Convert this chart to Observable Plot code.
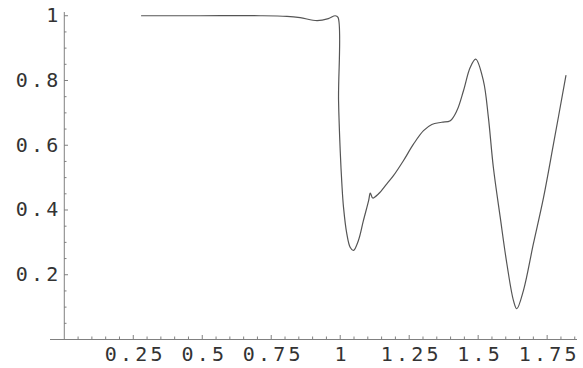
<!DOCTYPE html>
<html>
<head>
<meta charset="utf-8">
<script src="https://cdn.jsdelivr.net/npm/d3@7"></script>
<script src="https://cdn.jsdelivr.net/npm/@observablehq/plot@0.6"></script>
<style>
  html, body { margin: 0; padding: 0; background: #fff; }
  #chart svg { display: block; }
  #chart text { letter-spacing: 3.2px; }
</style>
</head>
<body>
<div id="chart"></div>
<script>
// Sampled response curve
const xs = [0.28, 0.493, 0.71, 0.807, 0.855, 0.916, 0.957, 0.982, 0.992, 0.994, 1.0, 1.006, 1.012, 1.024, 1.036, 1.048, 1.066, 1.084, 1.103, 1.109, 1.118, 1.139, 1.169, 1.193, 1.229, 1.266, 1.302, 1.332, 1.368, 1.399, 1.423, 1.447, 1.471, 1.491, 1.519, 1.537, 1.555, 1.58, 1.604, 1.628, 1.64, 1.664, 1.7, 1.737, 1.773, 1.818];
const ys = [1.0, 1.0, 1.0, 0.998, 0.994, 0.985, 0.991, 1.0, 0.995, 0.738, 0.583, 0.481, 0.408, 0.326, 0.285, 0.275, 0.306, 0.367, 0.429, 0.452, 0.437, 0.45, 0.481, 0.506, 0.552, 0.604, 0.645, 0.664, 0.671, 0.676, 0.707, 0.769, 0.84, 0.866, 0.799, 0.686, 0.532, 0.377, 0.234, 0.12, 0.095, 0.151, 0.295, 0.439, 0.604, 0.815];

// Axis ticks
const xMajorTicks = [0.25, 0.5, 0.75, 1, 1.25, 1.5, 1.75];
const xTickLabels = ["0.25", "0.5", "0.75", "1", "1.25", "1.5", "1.75"];
const yMajorTicks = [0.2, 0.4, 0.6, 0.8, 1];
const yTickLabels = ["0.2", "0.4", "0.6", "0.8", "1"];
const xMinorTicks = d3.range(1, 38).map(i => i * 0.05).filter(v => Math.abs(v / 0.25 - Math.round(v / 0.25)) > 1e-6);
const yMinorTicks = d3.range(1, 21).map(i => i * 0.05).filter(v => Math.abs(v / 0.2 - Math.round(v / 0.2)) > 1e-6);

const data = xs.map((x, i) => ({x, y: ys[i]}));

const font = "DejaVu Sans Mono";
const axisColor = "#808080";
const noText = () => "";

const chart = Plot.plot({
  width: 583,
  height: 368,
  marginLeft: 50,
  marginRight: 6,
  marginTop: 12,
  marginBottom: 29,
  style: {fontFamily: font, fontSize: "20px", color: "#333", background: "#fff"},
  x: {domain: [-0.05, 1.86]},
  y: {domain: [0, 1.01]},
  marks: [
    // axis lines through the origin
    Plot.ruleY([0], {stroke: axisColor, strokeWidth: 1}),
    Plot.ruleX([0], {stroke: axisColor, strokeWidth: 1}),
    // inward tick marks
    Plot.axisX({ticks: xMajorTicks, tickSize: 4, dy: -4, tickFormat: noText, label: null, stroke: axisColor}),
    Plot.axisX({ticks: xMinorTicks, tickSize: 2.5, dy: -2.5, tickFormat: noText, label: null, stroke: axisColor}),
    Plot.axisY({ticks: yMajorTicks, tickSize: 4, dx: 18, tickFormat: noText, label: null, stroke: axisColor}),
    Plot.axisY({ticks: yMinorTicks, tickSize: 2.5, dx: 16.5, tickFormat: noText, label: null, stroke: axisColor}),
    // tick labels
    Plot.axisX({ticks: xMajorTicks, tickSize: 0, tickPadding: 7, dx: 2, tickFormat: (d, i) => xTickLabels[i], label: null, fill: "#333"}),
    Plot.axisY({ticks: yMajorTicks, tickSize: 0, tickPadding: 3, dx: 14, tickFormat: (d, i) => yTickLabels[i], label: null, fill: "#333"}),
    // the curve
    Plot.line(data, {x: "x", y: "y", curve: "catmull-rom", stroke: "#555", strokeWidth: 1.2})
  ]
});

document.getElementById("chart").appendChild(chart);
</script>
</body>
</html>
